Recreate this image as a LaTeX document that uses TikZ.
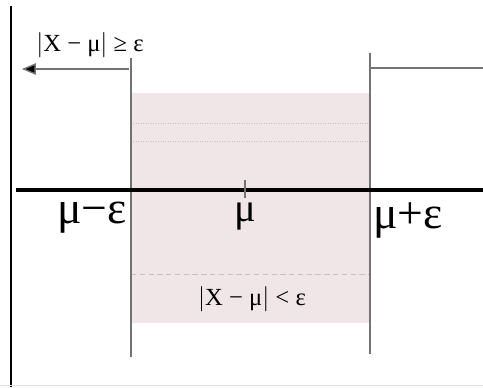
\documentclass[tikz,border=0pt]{standalone}
\usepackage{fontspec}
\setmainfont{Liberation Serif}
\usetikzlibrary{arrows,positioning}
\definecolor{band}{RGB}{240,230,231}
\definecolor{bandline}{RGB}{205,190,192}
\newcommand{\absbar}{\(\Big|\)}
\tikzset{
    edge/.style={draw=black!55,line width=0.8pt},
    biglabel/.style={font=\fontsize{26}{26}\selectfont,inner sep=0pt},
    cond/.style={font=\fontsize{14}{14}\selectfont,inner sep=1pt}
}

\begin{document}
\begin{tikzpicture}[x=0.02cm,y=-0.02cm]
    \useasboundingbox (0,0) rectangle (483,387);
    % shaded band
    \fill[band] (131,93) rectangle (370,323);
    \draw[bandline,densely dotted] (131,123)--(370,123);
    \draw[bandline,densely dotted] (131,141)--(370,141);
    \draw[bandline,densely dashed] (131,274)--(370,274);
    %%
    \coordinate (lt) at (131,58);
    \coordinate (lb) at (131,357);
    \coordinate (rt) at (370,53);
    \coordinate (rb) at (370,354);
    \draw[edge] (lt)--(lb);
    \draw[edge] (rt)--(rb);
    \coordinate (ya) at (11,6);
    \coordinate (yb) at (11,387);
    \draw[line width=1.6pt] (ya)--(yb);
    \draw[black!12] (0,385)--(483,385);
    %%
    \coordinate (al) at (16,190);
    \coordinate (ar) at (483,190);
    \draw[line width=2.6pt] (al)--(ar);
    \coordinate (mt) at (245,180);
    \coordinate (mb) at (245,198);
    \draw[edge,line width=0.6pt] (mt)--(mb);
    %%
    \coordinate (ls) at (129,69);
    \coordinate (le) at (22,69);
    \draw[edge,-{triangle 45[fill=black]}] (ls)--(le);
    \coordinate (rs) at (370,68);
    \coordinate (re) at (483,68);
    \draw[edge] (rs)--(re);
    %%
    \node[cond] (out) at (90,45) {\absbar X − μ\absbar\ ≥ ε};
    \node[cond] (in) at (252,299) {\absbar X − μ\absbar\ < ε};
    \node[biglabel,anchor=north east] (lo) at (127,202) {μ−ε};
    \node[biglabel,anchor=north,font=\fontsize{23}{23}\selectfont] (mu) at (245,203) {μ};
    \node[biglabel,anchor=north west] (hi) at (373,202) {μ+ε};
\end{tikzpicture}
\end{document}
